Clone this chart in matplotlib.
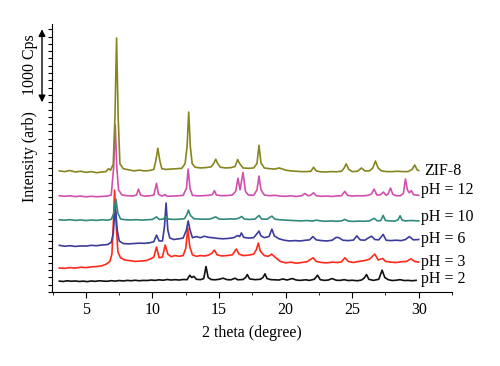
import matplotlib.pyplot as plt
from matplotlib.ticker import MultipleLocator

plt.rcParams["font.family"] = ["Liberation Serif", "DejaVu Serif"]

# XRD patterns, stacked (counts already include the vertical offset)
zif8 = [
    (3.0, 1660), (3.4, 1650), (3.8, 1665), (4.2, 1645), (4.6, 1655), (5.0, 1640),
    (5.4, 1650), (5.8, 1635), (6.2, 1645), (6.5, 1650), (6.7, 1690), (6.85, 1670),
    (7.05, 1750), (7.18, 2400), (7.3, 3480), (7.42, 2400), (7.55, 1760), (7.8, 1690),
    (8.2, 1675), (8.6, 1660), (9.0, 1670), (9.4, 1660), (9.8, 1665), (10.1, 1680),
    (10.25, 1800), (10.4, 1970), (10.55, 1800), (10.7, 1690), (11.0, 1680), (11.4, 1685),
    (11.8, 1690), (12.2, 1695), (12.45, 1760), (12.6, 2000), (12.72, 2466), (12.84, 2000),
    (12.98, 1760), (13.2, 1710), (13.6, 1700), (14.0, 1705), (14.4, 1715), (14.6, 1760),
    (14.75, 1820), (14.9, 1760), (15.1, 1710), (15.5, 1700), (15.9, 1705), (16.2, 1720),
    (16.4, 1815), (16.55, 1760), (16.8, 1700), (17.2, 1695), (17.6, 1700), (17.85, 1760),
    (18.0, 2010), (18.15, 1770), (18.4, 1700), (18.8, 1690), (19.2, 1685), (19.5, 1700),
    (19.7, 1690), (20.0, 1670), (20.4, 1660), (20.8, 1655), (21.2, 1650), (21.6, 1650),
    (21.9, 1655), (22.1, 1710), (22.3, 1660), (22.6, 1648), (23.0, 1645), (23.4, 1650),
    (23.8, 1648), (24.2, 1655), (24.4, 1700), (24.55, 1755), (24.75, 1680), (25.0, 1650),
    (25.4, 1655), (25.7, 1700), (25.95, 1660), (26.3, 1660), (26.55, 1700), (26.75, 1795),
    (26.95, 1700), (27.2, 1660), (27.6, 1650), (28.0, 1650), (28.4, 1655), (28.8, 1650),
    (29.2, 1650), (29.5, 1680), (29.7, 1740), (29.9, 1670), (30.0, 1665),
]
ph12 = [
    (3.0, 1320), (3.4, 1312), (3.8, 1318), (4.2, 1308), (4.6, 1315), (5.0, 1305),
    (5.4, 1312), (5.8, 1306), (6.2, 1310), (6.6, 1315), (6.9, 1330), (7.08, 1700),
    (7.2, 2290), (7.32, 1700), (7.45, 1400), (7.7, 1330), (8.1, 1320), (8.5, 1315),
    (8.8, 1330), (8.95, 1410), (9.1, 1330), (9.4, 1315), (9.8, 1318), (10.1, 1330),
    (10.3, 1490), (10.45, 1340), (10.7, 1315), (10.95, 1335), (11.1, 1312), (11.5, 1315),
    (11.9, 1318), (12.3, 1325), (12.55, 1420), (12.68, 1685), (12.82, 1420), (13.0, 1325),
    (13.4, 1318), (13.8, 1320), (14.2, 1325), (14.5, 1335), (14.65, 1390), (14.8, 1330),
    (15.2, 1320), (15.6, 1322), (16.0, 1330), (16.25, 1380), (16.42, 1560), (16.58, 1400),
    (16.8, 1640), (16.98, 1380), (17.2, 1330), (17.6, 1325), (17.85, 1400), (18.0, 1590),
    (18.15, 1400), (18.4, 1330), (18.8, 1320), (19.2, 1325), (19.6, 1315), (20.0, 1312),
    (20.4, 1318), (20.8, 1310), (21.2, 1320), (21.45, 1350), (21.7, 1318), (21.9, 1330),
    (22.1, 1360), (22.3, 1320), (22.7, 1312), (23.1, 1315), (23.5, 1310), (23.9, 1318),
    (24.2, 1320), (24.45, 1380), (24.65, 1325), (25.0, 1315), (25.4, 1320), (25.8, 1318),
    (26.2, 1325), (26.45, 1345), (26.65, 1410), (26.85, 1330), (27.1, 1330), (27.35, 1370),
    (27.55, 1325), (27.7, 1345), (27.88, 1425), (28.05, 1340), (28.3, 1320), (28.6, 1318),
    (28.85, 1350), (29.0, 1550), (29.15, 1400), (29.3, 1360), (29.45, 1390), (29.6, 1335),
    (29.8, 1330), (30.0, 1325),
]
ph10 = [
    (3.0, 990), (3.4, 985), (3.8, 992), (4.2, 982), (4.6, 988), (5.0, 980), (5.4, 987),
    (5.8, 982), (6.2, 990), (6.6, 985), (6.9, 995), (7.1, 1080), (7.25, 1274), (7.4, 1080),
    (7.6, 1000), (8.0, 990), (8.4, 988), (8.8, 992), (9.2, 986), (9.6, 990), (10.0, 995),
    (10.3, 1030), (10.5, 995), (10.8, 1000), (11.0, 1035), (11.2, 1000), (11.6, 995),
    (12.0, 998), (12.4, 1005), (12.58, 1060), (12.7, 1123), (12.85, 1050), (13.1, 1005),
    (13.5, 1000), (13.9, 998), (14.3, 1000), (14.75, 1030), (15.0, 1000), (15.4, 998),
    (15.8, 1002), (16.2, 1000), (16.45, 1010), (16.7, 1035), (16.9, 1000), (17.3, 995),
    (17.7, 1000), (18.0, 1050), (18.2, 1000), (18.6, 998), (18.97, 1040), (19.2, 998),
    (19.6, 990), (20.0, 985), (20.4, 982), (20.8, 978), (21.2, 975), (21.6, 980),
    (22.0, 972), (22.3, 985), (22.6, 975), (23.0, 970), (23.4, 975), (23.8, 970),
    (24.2, 975), (24.45, 995), (24.7, 972), (25.1, 968), (25.5, 972), (25.9, 970),
    (26.3, 975), (26.65, 1010), (26.9, 975), (27.15, 980), (27.33, 1050), (27.5, 980),
    (27.8, 975), (28.2, 972), (28.45, 990), (28.6, 1045), (28.75, 985), (29.0, 975),
    (29.4, 980), (29.7, 978), (30.0, 975),
]
ph6 = [
    (3.0, 640), (3.4, 628), (3.8, 635), (4.2, 625), (4.6, 632), (5.0, 630), (5.4, 640),
    (5.8, 635), (6.2, 645), (6.6, 650), (6.9, 680), (7.05, 800), (7.2, 1190), (7.35, 850),
    (7.5, 700), (7.8, 665), (8.2, 660), (8.6, 665), (9.0, 670), (9.4, 668), (9.8, 675),
    (10.1, 690), (10.3, 780), (10.5, 700), (10.75, 700), (10.9, 900), (11.02, 1220),
    (11.15, 850), (11.3, 740), (11.6, 720), (12.0, 730), (12.3, 740), (12.55, 850),
    (12.68, 975), (12.82, 850), (13.0, 745), (13.3, 760), (13.6, 745), (13.9, 765),
    (14.2, 750), (14.5, 745), (14.9, 735), (15.3, 730), (15.7, 735), (16.1, 745),
    (16.4, 775), (16.55, 760), (16.68, 810), (16.85, 750), (17.2, 740), (17.6, 745),
    (17.85, 800), (18.0, 836), (18.15, 770), (18.4, 745), (18.75, 760), (18.97, 863),
    (19.15, 770), (19.5, 730), (19.9, 710), (20.3, 700), (20.7, 705), (21.1, 700),
    (21.5, 710), (21.8, 715), (22.05, 760), (22.3, 715), (22.7, 705), (23.1, 700),
    (23.5, 710), (23.8, 750), (24.0, 745), (24.3, 710), (24.7, 705), (25.1, 712),
    (25.35, 770), (25.6, 715), (25.95, 710), (26.2, 740), (26.45, 765), (26.7, 720),
    (27.0, 715), (27.33, 790), (27.55, 710), (27.9, 705), (28.3, 710), (28.7, 705),
    (29.0, 720), (29.3, 760), (29.6, 715), (30.0, 720),
]
ph3 = [
    (3.0, 330), (3.4, 325), (3.8, 335), (4.2, 328), (4.6, 340), (5.0, 335), (5.4, 345),
    (5.8, 350), (6.2, 360), (6.5, 380), (6.8, 420), (6.95, 520), (7.05, 900), (7.15, 1397),
    (7.28, 900), (7.4, 550), (7.6, 470), (7.9, 440), (8.3, 430), (8.7, 420), (9.1, 425),
    (9.5, 430), (9.8, 450), (10.1, 480), (10.3, 617), (10.5, 470), (10.75, 480),
    (10.95, 644), (11.15, 520), (11.4, 485), (11.7, 500), (12.0, 490), (12.3, 500),
    (12.5, 600), (12.65, 877), (12.8, 620), (13.0, 510), (13.3, 490), (13.6, 500),
    (13.9, 495), (14.2, 505), (14.45, 530), (14.65, 575), (14.85, 510), (15.2, 495),
    (15.6, 500), (16.0, 510), (16.3, 590), (16.5, 520), (16.8, 500), (17.2, 505),
    (17.6, 520), (17.8, 580), (17.95, 671), (18.1, 560), (18.4, 500), (18.7, 490),
    (18.95, 520), (19.2, 480), (19.6, 420), (20.0, 400), (20.4, 410), (20.8, 395),
    (21.2, 405), (21.6, 415), (22.07, 470), (22.3, 420), (22.7, 405), (23.1, 400),
    (23.5, 410), (23.9, 405), (24.2, 415), (24.45, 470), (24.7, 420), (25.1, 405),
    (25.5, 420), (25.9, 430), (26.3, 450), (26.7, 520), (26.95, 440), (27.3, 460),
    (27.5, 420), (27.9, 410), (28.3, 405), (28.7, 415), (29.1, 420), (29.4, 455),
    (29.7, 420), (30.0, 410),
]
ph2 = [
    (3.0, 150), (3.3, 145), (3.6, 155), (3.9, 148), (4.2, 152), (4.5, 145), (4.8, 150),
    (5.1, 143), (5.4, 152), (5.7, 147), (6.0, 155), (6.3, 150), (6.6, 148), (6.9, 156),
    (7.2, 150), (7.5, 158), (7.8, 152), (8.1, 160), (8.4, 155), (8.7, 162), (9.0, 155),
    (9.3, 160), (9.6, 158), (9.9, 165), (10.2, 160), (10.5, 168), (10.8, 162), (11.1, 172),
    (11.4, 165), (11.7, 170), (12.0, 165), (12.3, 172), (12.6, 170), (12.8, 230),
    (12.95, 200), (13.1, 215), (13.3, 175), (13.6, 170), (13.85, 185), (14.02, 350),
    (14.18, 200), (14.4, 172), (14.7, 168), (15.0, 175), (15.3, 190), (15.6, 170),
    (15.9, 168), (16.2, 190), (16.4, 168), (16.8, 172), (17.0, 200), (17.12, 240),
    (17.3, 180), (17.7, 170), (18.1, 175), (18.3, 200), (18.45, 250), (18.6, 185),
    (18.9, 170), (19.2, 168), (19.5, 165), (19.8, 180), (20.1, 165), (20.5, 185),
    (20.8, 165), (21.1, 160), (21.5, 168), (21.8, 160), (22.15, 175), (22.4, 230),
    (22.6, 170), (22.9, 160), (23.2, 165), (23.5, 185), (23.8, 162), (24.1, 160),
    (24.4, 170), (24.7, 158), (25.0, 162), (25.4, 155), (25.7, 165), (25.9, 190),
    (26.08, 240), (26.25, 175), (26.6, 160), (27.0, 175), (27.25, 300), (27.45, 200),
    (27.7, 170), (28.0, 158), (28.3, 162), (28.6, 170), (28.9, 158), (29.2, 160),
    (29.5, 155), (29.8, 160),
]

series = [
    ("pH = 2", ph2, "#111111", 174),
    ("pH = 3", ph3, "#ff2a1a", 415),
    ("pH = 6", ph6, "#3c3c9c", 722),
    ("pH = 10", ph10, "#2f8a7c", 1032),
    ("pH = 12", ph12, "#d24fae", 1397),
    ("ZIF-8", zif8, "#86851f", 1662),
]

fig = plt.figure(figsize=(5.0, 3.66), dpi=100)
ax = fig.add_axes([0.104, 0.202, 0.80, 0.732])

for label, data, color, label_y in series:
    tt = [p[0] for p in data]
    cc = [p[1] for p in data]
    ax.plot(tt, cc, color=color, lw=1.2)
    x_lab = 30.45 if label == "ZIF-8" else 30.2
    ax.text(x_lab, label_y, label, fontsize=11.5, ha="left", va="center")

ax.set_xlim(2.45, 32.5)
ax.set_ylim(0, 3670)
ax.spines["top"].set_visible(False)
ax.spines["right"].set_visible(False)
ax.xaxis.set_major_locator(MultipleLocator(5))
ax.xaxis.set_minor_locator(MultipleLocator(2.5))
ax.yaxis.set_major_locator(MultipleLocator(100))
ax.set_yticklabels([])
ax.tick_params(axis="x", which="major", direction="out", length=4, labelsize=11.5)
ax.tick_params(axis="x", which="minor", direction="out", length=2.5)
ax.tick_params(axis="y", direction="out", length=3)
ax.set_xlabel("2 theta (degree)", fontsize=11.5, labelpad=5)

# scale bar for 1000 counts
ax.annotate("", xy=(-0.025, 3600), xytext=(-0.025, 2600),
            xycoords=("axes fraction", "data"), textcoords=("axes fraction", "data"),
            arrowprops=dict(arrowstyle="<|-|>", color="black", lw=1.0,
                            mutation_scale=10, shrinkA=0, shrinkB=0),
            annotation_clip=False)
ax.text(-0.056, 3120, "1000 Cps", rotation=90, fontsize=11.5, ha="center", va="center",
        transform=ax.get_yaxis_transform())
ax.text(-0.056, 1850, "Intensity (arb)", rotation=90, fontsize=11.5, ha="center", va="center",
        transform=ax.get_yaxis_transform())

fig.savefig("out.png", dpi=100)
